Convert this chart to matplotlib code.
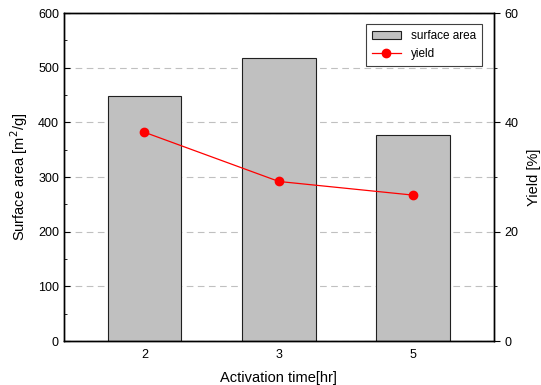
import matplotlib
matplotlib.use("Agg")
import matplotlib.pyplot as plt
from matplotlib.ticker import MultipleLocator

plt.rcParams['font.family'] = ['Liberation Sans', 'DejaVu Sans']

categories = ['2', '3', '5']
surface_area = [448, 518, 377]
yield_pct = [38.2, 29.2, 26.7]

fig = plt.figure(figsize=(5.41, 3.85), dpi=100)
ax = fig.add_axes([0.118, 0.114, 0.795, 0.852])
x = list(range(len(categories)))

ax.set_axisbelow(True)
ax.yaxis.grid(True, linestyle=(0, (6, 4)), color='#c0c0c0', linewidth=0.8)
bars = ax.bar(x, surface_area, width=0.55, color='#c0c0c0', edgecolor='#202020',
              linewidth=0.8, label='surface area', zorder=2)
ax.set_xlim(-0.6, 2.6)
ax.set_ylim(0, 600)
ax.yaxis.set_major_locator(MultipleLocator(100))
ax.yaxis.set_minor_locator(MultipleLocator(50))
ax.set_xticks(x)
ax.set_xticklabels(categories)
ax.tick_params(axis='y', which='both', direction='in', labelsize=9)
ax.tick_params(axis='y', which='major', length=4)
ax.tick_params(axis='y', which='minor', length=2.5)
ax.tick_params(axis='x', length=0, labelsize=9, pad=6)
ax.set_ylabel('Surface area [m$^2$/g]', fontsize=10.5, labelpad=6)
ax.set_xlabel('Activation time[hr]', fontsize=10.5, labelpad=7)

ax2 = ax.twinx()
line, = ax2.plot(x, yield_pct, color='#ff0000', marker='o', markersize=6,
                 linewidth=0.9, label='yield', zorder=3)
ax2.set_ylim(0, 60)
ax2.yaxis.set_major_locator(MultipleLocator(20))
ax2.yaxis.set_minor_locator(MultipleLocator(10))
ax2.tick_params(axis='y', which='both', direction='out', labelsize=9)
ax2.tick_params(axis='y', which='major', length=4)
ax2.tick_params(axis='y', which='minor', length=2.5)
ax2.set_ylabel('Yield [%]', fontsize=10.5, labelpad=6)

for a in (ax, ax2):
    for s in a.spines.values():
        s.set_linewidth(1.0)

leg = ax2.legend([bars, line], ['surface area', 'yield'], loc='upper right',
                 fontsize=8.5, frameon=True, fancybox=False, framealpha=1,
                 edgecolor='#404040', borderpad=0.5, handlelength=2.5,
                 bbox_to_anchor=(0.985, 0.985))
leg.get_frame().set_linewidth(0.8)

fig.savefig('out.png', dpi=100)
